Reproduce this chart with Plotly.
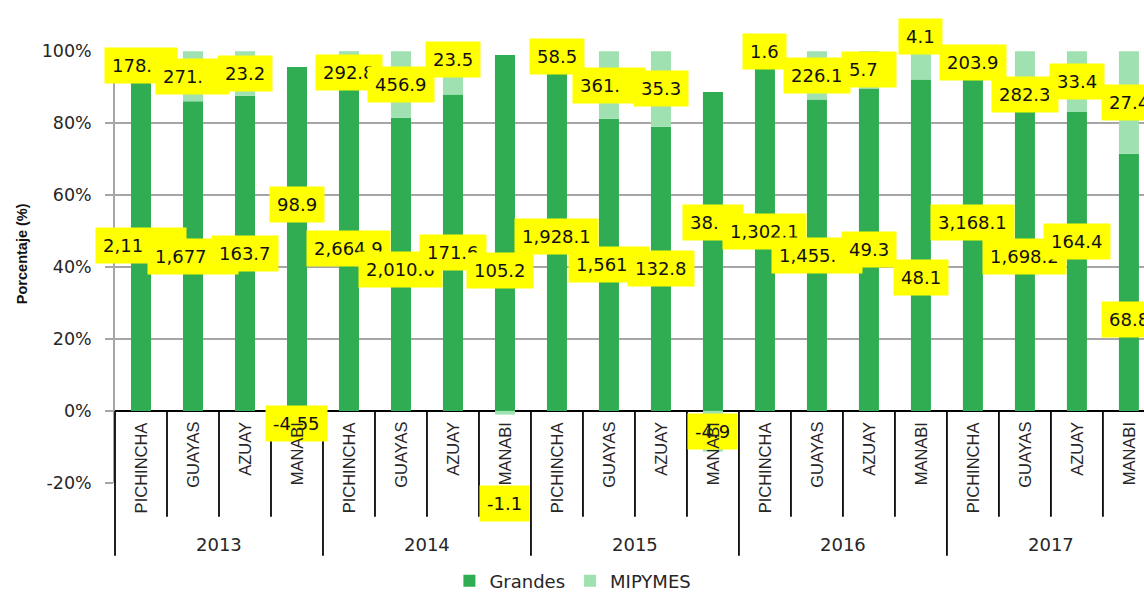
import plotly.graph_objects as go

# ---------------- data ----------------
years = ["2013", "2014", "2015", "2016", "2017"]
provinces = ["PICHINCHA", "GUAYAS", "AZUAY", "MANABI"]

# raw values (order: year by year, provinces in order above)
grandes = [2115.0, 1677.0, 163.7, 98.9,
           2664.9, 2010.6, 171.6, 105.2,
           1928.1, 1561.0, 132.8, 38.4,
           1302.1, 1455.5, 49.3, 48.1,
           3168.1, 1698.2, 164.4, 68.8]
mipymes = [178.5, 271.5, 23.2, -4.55,
           292.8, 456.9, 23.5, -1.1,
           58.5, 361.5, 35.3, -4.9,
           1.6, 226.1, 5.7, 4.1,
           203.9, 282.3, 33.4, 27.4]

# data-label texts as shown on the chart (some are truncated in the original)
grandes_labels = ["2,11", "1,677", "163.7", "98.9",
                  "2,664.9", "2,010.6", "171.6", "105.2",
                  "1,928.1", "1,561", "132.8", "38.",
                  "1,302.1", "1,455.", "49.3", "48.1",
                  "3,168.1", "1,698.2", "164.4", "68.8"]
mipymes_labels = ["178.", "271.", "23.2", "-4.55",
                  "292.8", "456.9", "23.5", "-1.1",
                  "58.5", "361.", "35.3", "-4.9",
                  "1.6", "226.1", "5.7", "4.1",
                  "203.9", "282.3", "33.4", "27.4"]

y_ticks = [-20, 0, 20, 40, 60, 80, 100]

# ---------------- styling ----------------
DARK = "#30AD52"
LIGHT = "#9FE1B0"
YELLOW = "#FFFF00"
GRID = "#A6A6A6"
FONT = "DejaVu Sans"
CAT_FONT = "Liberation Sans"

Y_MIN, Y_MAX = -20.05, 100.05
X_MIN, X_MAX = -0.5, 19.29

def py(v):  # data y -> paper y
    return (v - Y_MIN) / (Y_MAX - Y_MIN)

def px(v):  # data x -> paper x
    return (v - X_MIN) / (X_MAX - X_MIN)

n = len(years) * len(provinces)
xs = list(range(n))
tot = [abs(g) + abs(m) for g, m in zip(grandes, mipymes)]
pg = [100.0 * g / t for g, t in zip(grandes, tot)]
pm = [100.0 * m / t for m, t in zip(mipymes, tot)]

fig = go.Figure()
fig.add_trace(go.Bar(x=xs, y=pg, name="Grandes", marker_color=DARK,
                     marker_line_width=0, width=0.385, hoverinfo="skip"))
fig.add_trace(go.Bar(x=xs, y=pm, name="MIPYMES", marker_color=LIGHT,
                     marker_line_width=0, width=0.385, hoverinfo="skip"))

# manual label nudges (pixels) reproducing hand-moved labels of the original
g_shift = {3: 34, 5: -5, 7: -38, 11: 29, 15: -32, 16: 19, 18: 20, 19: -37}
m_shift = {3: -5, 4: -4, 6: 13, 7: -91, 15: 29, 17: -18}
g_xshift = {7: -5}
g_box = {0: 90, 1: 90, 9: 80, 11: 60, 13: 90}
m_box = {0: 72, 1: 73, 9: 72, 14: 54}
PAD = 7

annotations = []

def label(x, y, text, ys, xsft, box):
    a = dict(x=x, y=y, xref="x", yref="y", text=text, showarrow=False,
             bgcolor=YELLOW, borderpad=PAD,
             font=dict(family=FONT, size=18, color="#111111"),
             yshift=ys, xshift=xsft)
    if box:
        a["width"] = box - 2 * PAD
        a["align"] = "left"
    return a

for i in xs:
    annotations.append(label(i, pg[i] / 2.0, grandes_labels[i],
                             g_shift.get(i, 0), g_xshift.get(i, 0), g_box.get(i)))
    my = pg[i] + pm[i] / 2.0 if pm[i] >= 0 else pm[i] / 2.0
    annotations.append(label(i, my, mipymes_labels[i],
                             m_shift.get(i, 0), 0, m_box.get(i)))

# category (province) labels, drawn after the data labels
for i in xs:
    annotations.append(dict(x=px(i), y=py(0), xref="paper", yref="paper",
                            text=provinces[i % len(provinces)], showarrow=False,
                            textangle=-90, xanchor="center", yanchor="top",
                            yshift=-9,
                            font=dict(family=CAT_FONT, size=16.5, color="#262626")))
# year labels
for j, yr in enumerate(years):
    c = j * len(provinces) + (len(provinces) - 1) / 2.0
    annotations.append(dict(x=px(c), y=py(-37.2), xref="paper", yref="paper",
                            text=yr, showarrow=False, xanchor="center",
                            yanchor="middle",
                            font=dict(family=FONT, size=18, color="#262626")))
# y-axis title
annotations.append(dict(x=-0.0904, y=0.532, xref="paper", yref="paper",
                        text="<b>Porcentaje (%)</b>", showarrow=False,
                        textangle=-90, xanchor="center", yanchor="middle",
                        font=dict(family=CAT_FONT, size=14.5, color="#111111")))

# category separators
shapes = []
for k in range(n + 1):
    xp = px(k - 0.5)
    if xp > 1.0:
        continue
    bottom = -40.3 if k % len(provinces) == 0 else -29.4
    shapes.append(dict(type="line", xref="paper", yref="paper",
                       x0=xp, x1=xp, y0=py(0), y1=py(bottom),
                       line=dict(color="#000000", width=1.75)))

fig.update_layout(
    width=1144, height=592,
    margin=dict(l=115, r=0, t=51, b=109, pad=0, autoexpand=False),
    plot_bgcolor="white", paper_bgcolor="white",
    barmode="relative",
    font=dict(family=FONT, size=18, color="#262626"),
    showlegend=True,
    legend=dict(orientation="h", x=0.445, xanchor="center", y=-0.227,
                yanchor="middle", font=dict(family=FONT, size=18, color="#262626"),
                bgcolor="rgba(0,0,0,0)", traceorder="normal", itemwidth=30),
    annotations=annotations,
    shapes=shapes,
)
fig.update_xaxes(range=[X_MIN, X_MAX], showticklabels=False, showgrid=False,
                 zeroline=False, showline=False, ticks="")
fig.update_yaxes(range=[Y_MIN, Y_MAX], tickvals=y_ticks,
                 ticktext=[f"{v}%" for v in y_ticks],
                 showgrid=True, gridcolor=GRID, gridwidth=1.5,
                 zeroline=True, zerolinecolor="#000000", zerolinewidth=1.75,
                 showline=True, linecolor=GRID, linewidth=1.5,
                 ticks="outside", ticklen=8, tickcolor=GRID, tickwidth=1.5,
                 ticklabelstandoff=10,
                 tickfont=dict(family=FONT, size=17.5, color="#262626"))

fig.write_html("out.html", config={"displayModeBar": False},
               post_script="document.body.style.margin='0';")
